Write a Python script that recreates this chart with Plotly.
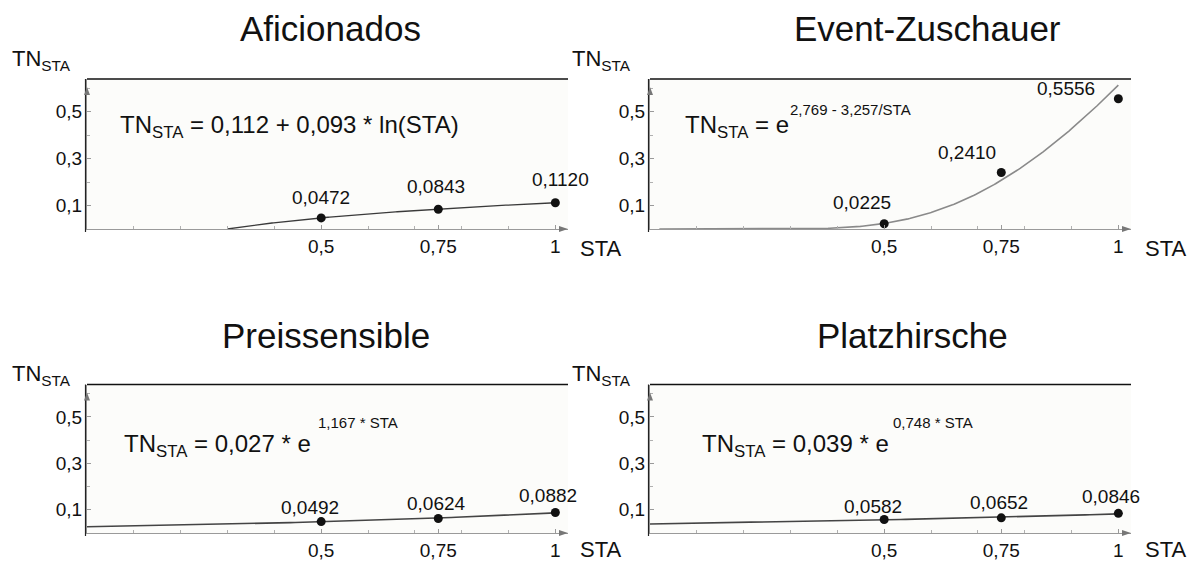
import numpy as np
import plotly.graph_objects as go

# ---------------- data ----------------
panel_titles = ["Aficionados", "Event-Zuschauer", "Preissensible", "Platzhirsche"]
sta_values = [0.5, 0.75, 1.0]
tn_aficionados = [0.0472, 0.0843, 0.1120]
tn_event = [0.0225, 0.2410, 0.5556]
tn_preis = [0.0492, 0.0624, 0.0882]
tn_platz = [0.0582, 0.0652, 0.0846]
tn_labels_aficionados = ["0,0472", "0,0843", "0,1120"]
tn_labels_event = ["0,0225", "0,2410", "0,5556"]
tn_labels_preis = ["0,0492", "0,0624", "0,0882"]
tn_labels_platz = ["0,0582", "0,0652", "0,0846"]

# fitted model coefficients as printed on the chart
coef_aficionados = [0.112, 0.093]   # a + b*ln(STA)
coef_event = [2.769, 3.257]         # exp(a - b/STA)
coef_preis = [0.027, 1.167]         # a*exp(b*STA)
coef_platz = [0.039, 0.748]         # a*exp(b*STA)

x_tickvals = [0.5, 0.75, 1.0]
x_ticktext = ["0,5", "0,75", "1"]
y_tickvals = [0.1, 0.3, 0.5]
y_ticktext = ["0,1", "0,3", "0,5"]

# ---------------- layout helpers ----------------
W, H = 1198, 563
FONT = "Liberation Sans, Arial, sans-serif"
def px(p):
    return p / W
def py(p):
    return 1 - p / H

XR = [0, 1.027]
YR = [0, 0.64]
dom_px_x = {"L": (87, 568), "R": (650, 1131)}
dom_px_y = {"T": (229, 79), "B": (533, 384.5)}
dom_x = {k: [px(a), px(b)] for k, (a, b) in dom_px_x.items()}
dom_y = {k: [py(a), py(b)] for k, (a, b) in dom_px_y.items()}

fig = go.Figure()

# curves
xs_af = np.linspace(np.exp(-coef_aficionados[0] / coef_aficionados[1]), 1.0, 200)
ys_af = coef_aficionados[0] + coef_aficionados[1] * np.log(xs_af)
xs_ev = np.linspace(0.02, 1.0, 300)
ys_ev = np.exp(coef_event[0] - coef_event[1] / xs_ev)
xs_pr = np.linspace(0, 1.0, 100)
ys_pr = coef_preis[0] * np.exp(coef_preis[1] * xs_pr)
ys_pl = coef_platz[0] * np.exp(coef_platz[1] * xs_pr)

panels = [
    ("x", "y", xs_af, ys_af, tn_aficionados, tn_labels_aficionados, "#3a3a3a", 1.3),
    ("x2", "y2", xs_ev, ys_ev, tn_event, tn_labels_event, "#8a8a8a", 1.6),
    ("x3", "y3", xs_pr, ys_pr, tn_preis, tn_labels_preis, "#444444", 1.6),
    ("x4", "y4", xs_pr, ys_pl, tn_platz, tn_labels_platz, "#444444", 1.6),
]
label_dx = [[0, -2, 5], [-22, -34, -52], [-11, -2, -7], [-11, -2, -7]]
label_dy = [[20, 23, 23], [21, 20, 10], [14, 15, 17], [13, 15, 17]]

annotations = []
for i, (xa, ya, cx, cy, vals, labs, lc, lw) in enumerate(panels):
    fig.add_trace(go.Scatter(x=cx, y=cy, mode="lines", line=dict(color=lc, width=lw),
                             xaxis=xa, yaxis=ya, hoverinfo="skip", showlegend=False))
    fig.add_trace(go.Scatter(x=sta_values, y=vals, mode="markers",
                             marker=dict(color="#111111", size=9),
                             xaxis=xa, yaxis=ya, showlegend=False))
    for j, (xv, yv, t) in enumerate(zip(sta_values, vals, labs)):
        annotations.append(dict(x=xv, y=yv, xref=xa, yref=ya, text=t, showarrow=False,
                                xshift=label_dx[i][j], yshift=label_dy[i][j],
                                font=dict(family=FONT, size=19, color="#111111")))

axis_common = dict(showgrid=False, zeroline=False, showline=True, linecolor="#9a9a9a", linewidth=1,
                   ticks="inside", ticklen=4, tickcolor="#9a9a9a",
                   tickfont=dict(family=FONT, size=19, color="#111111"), fixedrange=True)
layout_axes = {}
keys = [("L", "T"), ("R", "T"), ("L", "B"), ("R", "B")]
shapes = []
for k, (hx, vy) in enumerate(keys):
    n = "" if k == 0 else str(k + 1)
    layout_axes["xaxis" + n] = dict(axis_common, domain=dom_x[hx], range=XR, anchor="y" + n,
                                    tickmode="array", tickvals=x_tickvals, ticktext=x_ticktext,
                                    minor=dict(dtick=0.1, tick0=0, ticks="inside", ticklen=3,
                                               tickcolor="#b0b0b0"))
    layout_axes["yaxis" + n] = dict(axis_common, domain=dom_y[vy], range=YR, anchor="x" + n,
                                    tickmode="array", tickvals=y_tickvals, ticktext=y_ticktext,
                                    minor=dict(dtick=0.1, tick0=0, ticks="inside", ticklen=3,
                                               tickcolor="#b0b0b0"))
    xr, yr = "x" + n + " domain", "y" + n + " domain"
    wpx = dom_px_x[hx][1] - dom_px_x[hx][0]
    hpx = dom_px_y[vy][0] - dom_px_y[vy][1]
    # frame: black top and left border
    shapes.append(dict(type="line", xref=xr, yref=yr, x0=0, x1=1, y0=1, y1=1,
                       line=dict(color="#111111", width=1.6)))
    shapes.append(dict(type="line", xref=xr, yref=yr, x0=-1.5 / wpx, x1=-1.5 / wpx,
                       y0=-3 / hpx, y1=1, line=dict(color="#222222", width=1.2)))
    # axis arrowheads
    ty = 1 - 8 / hpx
    shapes.append(dict(type="path", xref=xr, yref=yr,
                       path=f"M {-3 / wpx} {ty - 8 / hpx} L {3 / wpx} {ty - 8 / hpx} L 0 {ty} Z",
                       fillcolor="#777777", line=dict(width=0)))
    shapes.append(dict(type="path", xref=xr, yref=yr,
                       path=f"M {1 - 9 / wpx} {-3 / hpx} L {1 - 9 / wpx} {3 / hpx} L 1 0 Z",
                       fillcolor="#777777", line=dict(width=0)))

def text(xp, yp, t, size, xanchor="left", yanchor="middle"):
    annotations.append(dict(x=px(xp), y=py(yp), xref="paper", yref="paper", text=t,
                            showarrow=False, xanchor=xanchor, yanchor=yanchor,
                            font=dict(family=FONT, size=size, color="#111111")))

# titles
text(330, 28, panel_titles[0], 35, "center")
text(927, 28, panel_titles[1], 35, "center")
text(326, 335, panel_titles[2], 35, "center")
text(912, 335, panel_titles[3], 35, "center")
# axis titles
for xl, yl in [(10, 60), (570, 60), (10, 375), (570, 375)]:
    text(xl, yl, "TN<sub>STA</sub>", 22)
for xl, yl in [(578, 248), (1143, 248), (578, 549), (1143, 549)]:
    text(xl, yl, "STA", 22)
# equations
text(118, 127, "TN<sub>STA</sub> = 0,112 + 0,093 * ln(STA)", 24)
text(683, 127, "TN<sub>STA</sub> = e", 24)
text(788, 109, "2,769 - 3,257/STA", 15)
text(122, 445, "TN<sub>STA</sub> = 0,027 * e", 24)
text(316, 422, "1,167 * STA", 15)
text(700, 445, "TN<sub>STA</sub> = 0,039 * e", 24)
text(891, 422, "0,748 * STA", 15)

fig.update_layout(width=W, height=H, margin=dict(l=0, r=0, t=0, b=0),
                  paper_bgcolor="white", plot_bgcolor="#fcfcfa",
                  annotations=annotations, shapes=shapes, showlegend=False,
                  font=dict(family=FONT), **layout_axes)
fig.write_html("out.html")
